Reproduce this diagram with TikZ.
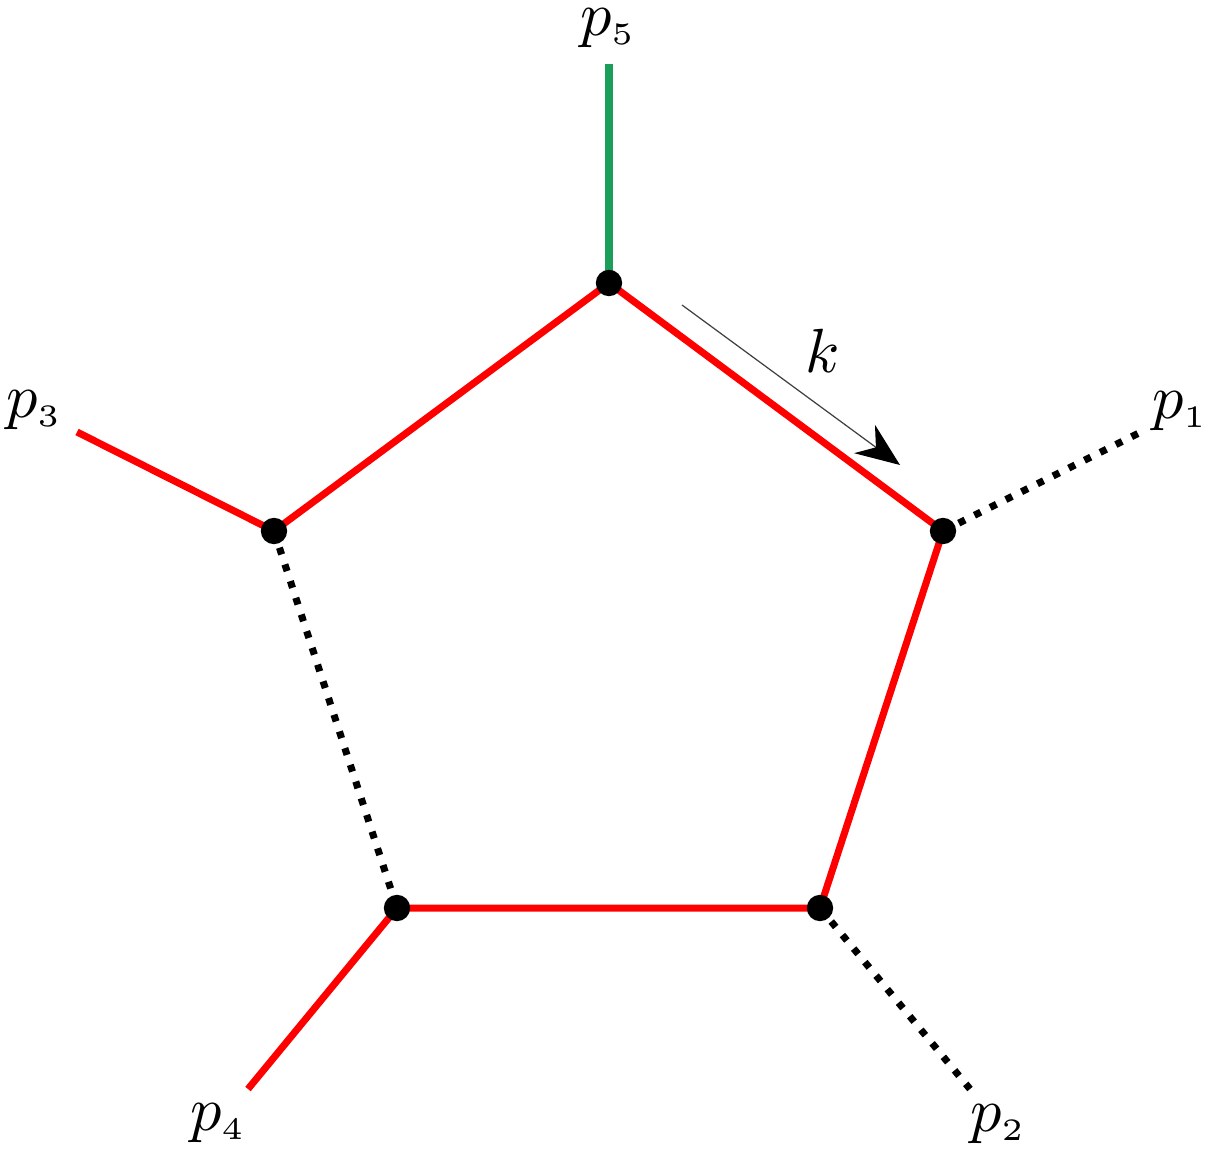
\documentclass[tikz,border=0pt]{standalone}
\usetikzlibrary{arrows.meta}
\definecolor{legreen}{RGB}{26,158,90}
\newcommand{\biglab}[1]{\scalebox{3.55}{$#1$}}
\begin{document}
\begin{tikzpicture}[x=0.02cm,y=-0.02cm,
  redline/.style={draw=red, line width=4pt},
  greenline/.style={draw=legreen, line width=4.4pt},
  dotline/.style={draw=black, line width=4pt, dash pattern=on 4pt off 6pt},
  vtx/.style={circle, fill=black, minimum size=15pt, inner sep=0pt},
  lab/.style={anchor=base, inner sep=0pt},
  momarrow/.style={draw=black!75, line width=0.7pt, -{Stealth[length=25pt,width=20pt,inset=8pt,black]}}
]
\useasboundingbox (0,0) rectangle (1212,1156);
% vertices
\coordinate (v5) at (609,283);
\coordinate (v1) at (943,531);
\coordinate (v2) at (820,908);
\coordinate (v4) at (397,908);
\coordinate (v3) at (274,531);
% external ends
\coordinate (e5) at (609,64);
\coordinate (e1) at (1139,433);
\coordinate (e2) at (970,1089);
\coordinate (e4) at (248,1089);
\coordinate (e3) at (77,432);
% pentagon
\draw[redline] (v3) -- (v5) -- (v1) -- (v2) -- (v4);
\draw[dotline] (v3) -- (v4);
% legs
\draw[greenline] (v5) -- (e5);
\draw[dotline] (v1) -- (e1);
\draw[dotline] (v2) -- (e2);
\draw[redline] (v4) -- (e4);
\draw[redline] (v3) -- (e3);
% dots
\foreach \v in {v1,v2,v3,v4,v5} \node[vtx] (d\v) at (\v) {};
% momentum arrow
\coordinate (ks) at (682,305);
\coordinate (ke) at (900,465);
\draw[momarrow] (ks) -- (ke);
\node[lab] (lk) at (823,372) {\biglab{k}};
% labels
\node[lab] (l5) at (608,35) {\biglab{p_{\scriptscriptstyle 5}}};
\node[lab] (l1) at (1180,418) {\biglab{p_{\scriptscriptstyle 1}}};
\node[lab] (l3) at (34,417) {\biglab{p_{\scriptscriptstyle 3}}};
\node[lab] (l4) at (218,1130) {\biglab{p_{\scriptscriptstyle 4}}};
\node[lab] (l2) at (998,1131) {\biglab{p_{\scriptscriptstyle 2}}};
\end{tikzpicture}
\end{document}
